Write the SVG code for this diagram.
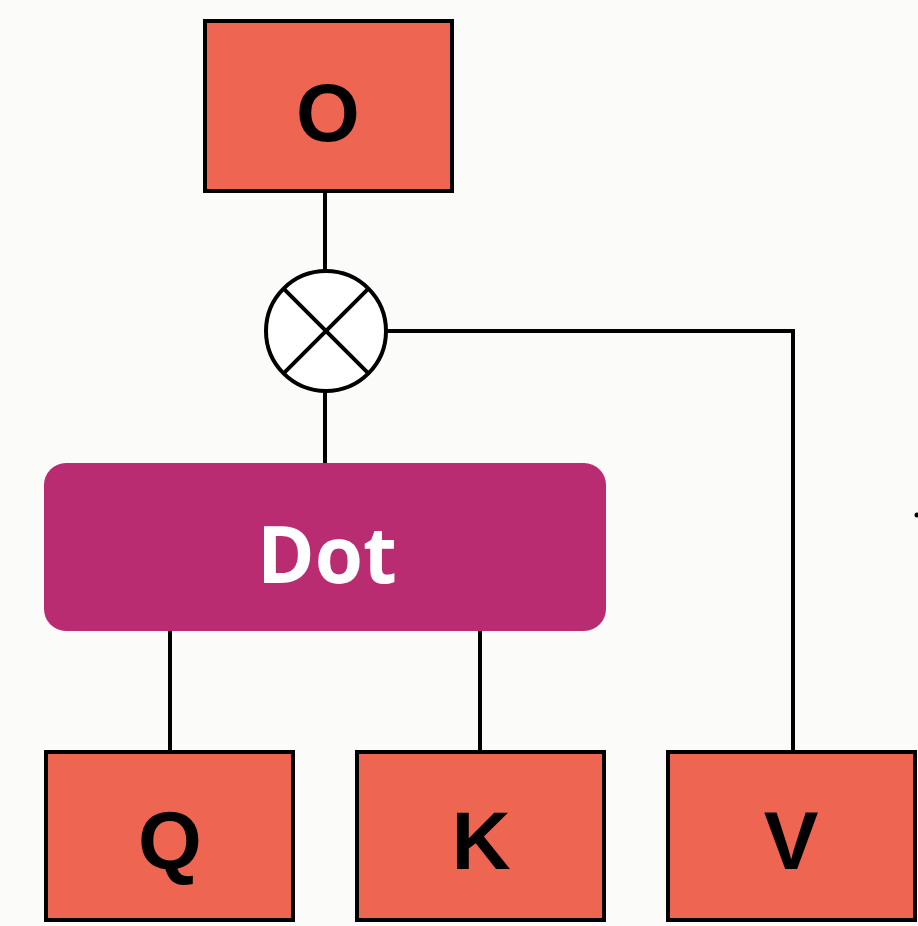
<svg xmlns="http://www.w3.org/2000/svg" width="918" height="926" viewBox="0 0 918 926">
<style>
.box{fill:#EE6651;stroke:#000;stroke-width:4}
.lbl{font-family:"Liberation Sans",Arial,sans-serif;font-weight:bold;font-size:82px;fill:#000;text-anchor:middle}
.wire{stroke:#000;stroke-width:4;fill:none}
</style>
<rect width="918" height="926" fill="#FBFBF9"/>
<g id="connectors">
<line class="wire" x1="325" y1="192" x2="325" y2="271"/>
<line class="wire" x1="325" y1="392" x2="325" y2="463"/>
<polyline class="wire" points="387,331 793,331 793,751"/>
<line class="wire" x1="170" y1="631" x2="170" y2="751"/>
<line class="wire" x1="480" y1="631" x2="480" y2="751"/>
</g>
<g id="node-O">
<rect class="box" x="205" y="21" width="247" height="170"/>
<text class="lbl" x="328" y="141">O</text>
</g>
<g id="node-mult">
<circle cx="326" cy="331" r="60" fill="#fff" stroke="#000" stroke-width="4"/>
<line class="wire" x1="283.6" y1="288.6" x2="368.4" y2="373.4"/>
<line class="wire" x1="368.4" y1="288.6" x2="283.6" y2="373.4"/>
</g>
<g id="node-Dot">
<rect x="44" y="463" width="562" height="168" rx="22" fill="#BA2C72"/>
<text x="327" y="583" font-family="'Open Sans',sans-serif" font-weight="700" font-size="78" fill="#fff" text-anchor="middle">Dot</text>
</g>
<g id="node-Q">
<rect class="box" x="46" y="752" width="247" height="168"/>
<text class="lbl" x="170" y="869">Q</text>
</g>
<g id="node-K">
<rect class="box" x="357" y="752" width="247" height="168"/>
<text class="lbl" x="481" y="869">K</text>
</g>
<g id="node-V">
<rect class="box" x="668" y="752" width="247" height="168"/>
<text class="lbl" x="791" y="869">V</text>
</g>
<circle cx="917" cy="515" r="2.5" fill="#000"/>
</svg>
